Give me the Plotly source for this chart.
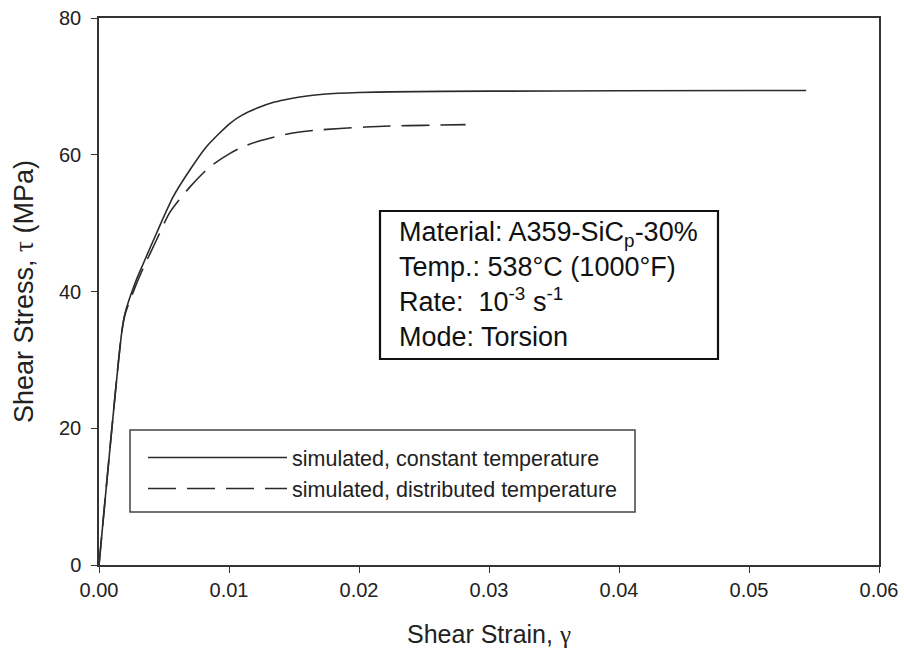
import plotly.graph_objects as go

# ---- data ----
strain_const = [0.0, 0.00174, 0.0020, 0.00277, 0.00341, 0.00444, 0.00572, 0.0070, 0.00828,
                0.01008, 0.0110, 0.01213, 0.0135, 0.01469, 0.0160, 0.01725, 0.0200, 0.02238,
                0.0300, 0.0400, 0.0544]
stress_const = [0.0, 33.9, 36.8, 41.2, 44.1, 48.6, 53.9, 57.8, 61.2,
                64.6, 65.8, 66.8, 67.7, 68.2, 68.6, 68.85, 69.1, 69.2,
                69.3, 69.35, 69.4]

strain_dist = [0.0, 0.00174, 0.0020, 0.00277, 0.0034, 0.00444, 0.00546, 0.0070, 0.0085,
               0.01008, 0.0110, 0.01213, 0.0135, 0.01469, 0.0165, 0.01854, 0.0205, 0.02238,
               0.0250, 0.0282]
stress_dist = [0.0, 33.9, 36.6, 40.6, 43.4, 47.6, 51.6, 55.3, 58.2,
               60.2, 61.1, 61.9, 62.6, 63.1, 63.55, 63.85, 64.05, 64.2,
               64.3, 64.4]

series_names = ["simulated, constant temperature", "simulated, distributed temperature"]
x_ticks = [0.00, 0.01, 0.02, 0.03, 0.04, 0.05, 0.06]
y_ticks = [0, 20, 40, 60, 80]

box_lines = ["Material: A359-SiC<sub>p</sub>-30%",
             "Temp.: 538°C (1000°F)",
             "Rate:&nbsp; 10<sup>-3</sup> s<sup>-1</sup>",
             "Mode: Torsion"]

# ---- layout helpers (pixel -> paper) ----
W, H = 904, 664
L, R, T, B = 99, 25, 18, 99
PW, PH = W - L - R, H - T - B
def px(x):
    return (x - L) / PW
def py(y):
    return (H - B - y) / PH

FONT = "Liberation Sans, Arial, sans-serif"
SERIF = "Liberation Serif"
LINE_COL = "#2b2b2b"

fig = go.Figure()
fig.add_trace(go.Scatter(x=strain_const, y=stress_const, mode="lines", name=series_names[0],
                         line=dict(color=LINE_COL, width=1.6, shape="spline", smoothing=0.7)))
fig.add_trace(go.Scatter(x=strain_dist, y=stress_dist, mode="lines", name=series_names[1],
                         line=dict(color=LINE_COL, width=1.6, dash="28px,11px",
                                   shape="spline", smoothing=0.7)))

axis_common = dict(showgrid=False, zeroline=False, showline=True, linecolor="#333333",
                   linewidth=1.5, mirror=True, ticks="outside", ticklen=6, tickwidth=1.2,
                   tickcolor="#333333", tickfont=dict(family=FONT, size=20, color="#222222"))

fig.update_xaxes(range=[0, 0.06], tickvals=x_ticks, tickformat=".2f",
                 title=dict(text=f"Shear Strain, <span style='font-family:{SERIF}'>γ</span>",
                            font=dict(family=FONT, size=25, color="#222222"), standoff=26),
                 **axis_common)
fig.update_yaxes(range=[0, 80], tickvals=y_ticks,
                 title=dict(text=f"Shear Stress, <span style='font-family:{SERIF}'>τ</span> (MPa)",
                            font=dict(family=FONT, size=27, color="#222222"), standoff=18),
                 ticklabelstandoff=6,
                 **axis_common)

fig.add_annotation(xref="paper", yref="paper", x=px(397), y=py(284), xanchor="left", yanchor="middle",
                   text="<br>".join(box_lines), align="left", showarrow=False,
                   font=dict(family=FONT, size=27, color="#111111"))

fig.update_layout(
    width=W, height=H,
    margin=dict(l=L, r=R, t=T, b=B, autoexpand=False),
    paper_bgcolor="white", plot_bgcolor="white",
    showlegend=True,
    legend=dict(x=px(143), y=py(437), xanchor="left", yanchor="top",
                bgcolor="rgba(0,0,0,0)", borderwidth=0, itemwidth=139,
                font=dict(family=FONT, size=21.5, color="#222222"), tracegroupgap=0),
    shapes=[
        dict(type="rect", xref="paper", yref="paper", x0=px(130), x1=px(635), y0=py(512), y1=py(430),
             line=dict(color="#444444", width=1.5), layer="above"),
        dict(type="rect", xref="paper", yref="paper", x0=px(380), x1=px(718), y0=py(359), y1=py(211),
             line=dict(color="#111111", width=2.2), layer="above"),
    ],
)

fig.write_html("out.html")
